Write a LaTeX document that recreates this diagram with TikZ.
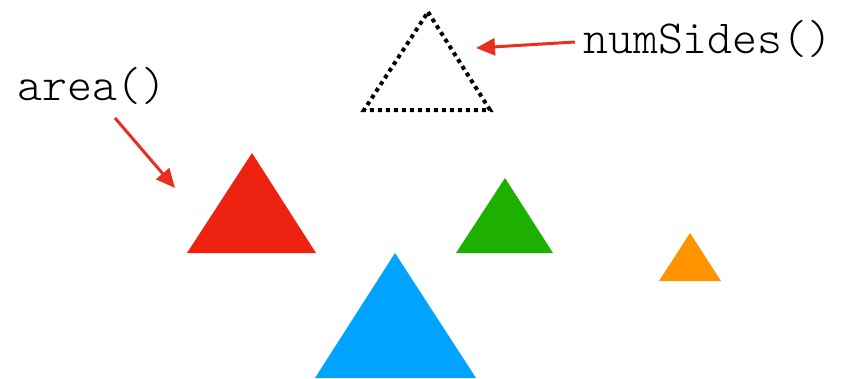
\documentclass[tikz,border=0pt]{standalone}
\usepackage{fontspec}
\setmonofont{Latin Modern Mono Light}
\usetikzlibrary{arrows.meta}
\definecolor{tred}{HTML}{EE2211}
\definecolor{tgreen}{HTML}{1EB000}
\definecolor{tblue}{HTML}{00A3FF}
\definecolor{torange}{HTML}{FF9300}
\definecolor{arred}{HTML}{E8301E}
\tikzset{
  lbl/.style={font=\ttfamily\fontsize{47.5}{47.5}\selectfont, inner sep=0pt, anchor=base west},
  redarrow/.style={draw=arred, line width=3pt, -{Triangle[length=19pt,width=17pt]}},
  dotted tri/.style={draw=black, line width=4pt, dash pattern=on 4pt off 4pt},
}
\begin{document}
\begin{tikzpicture}[x=1pt,y=-1pt]
\useasboundingbox (0,0) rectangle (850,378);
% filled triangles
\fill[tred] (252,153) -- (316,253) -- (187,253) -- cycle;
\fill[tgreen] (505,178) -- (553,253) -- (456,253) -- cycle;
\fill[torange] (690,233) -- (721,281) -- (659,281) -- cycle;
\fill[tblue] (395,253) -- (476,378) -- (315,378) -- cycle;
% dotted triangle
\draw[dotted tri] (428,12) -- (490,110) -- (364,110) -- cycle;
% labels
\node[lbl] (ns) at (583,53) {numSides()};
\node[lbl] (ar) at (17,100) {area()};
\coordinate (nsend) at (476,48);
\coordinate (nsstart) at (575,42);
\coordinate (arstart) at (115,118);
\coordinate (arend) at (175,188);
\draw[redarrow] (nsstart) -- (nsend);
\draw[redarrow] (arstart) -- (arend);
\end{tikzpicture}
\end{document}
